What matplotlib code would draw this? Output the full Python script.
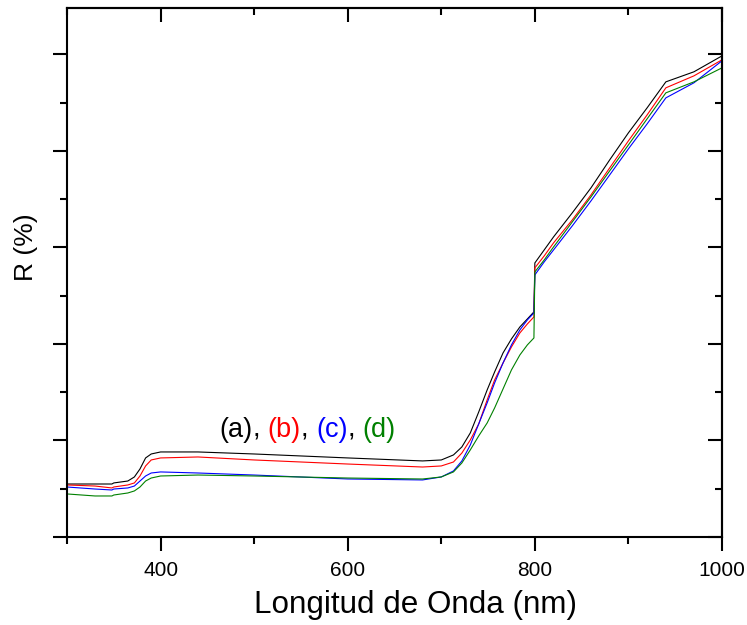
import matplotlib
matplotlib.use("Agg")
import matplotlib.pyplot as plt
from matplotlib.ticker import MultipleLocator, NullFormatter

plt.rcParams['font.family'] = ['Liberation Sans', 'DejaVu Sans']

# Wavelength grid (nm)
wavelength = [300, 330, 348, 350, 365, 372, 378, 384, 390, 400, 440, 500, 600, 680,
              700, 713, 722, 731, 740, 749, 757, 766, 775, 784, 792, 799, 800, 810,
              820, 840, 860, 880, 900, 920, 940, 970, 1000]

# Reflectance (arbitrary scale, %)
R_a = [5.49, 5.49, 5.49, 5.60, 5.80, 6.22, 7.05, 8.19, 8.60, 8.81, 8.81, 8.60, 8.19, 7.88,
       7.98, 8.50, 9.33, 10.78, 12.95, 15.23, 17.10, 19.07, 20.52, 21.76, 22.59, 23.32,
       28.39, 29.74, 31.09, 33.58, 36.17, 39.07, 41.87, 44.46, 47.15, 48.19, 49.84]
R_b = [5.39, 5.28, 5.08, 5.18, 5.39, 5.60, 6.32, 7.36, 7.98, 8.19, 8.29, 7.98, 7.56, 7.25,
       7.36, 7.77, 8.70, 10.05, 11.71, 14.20, 16.27, 18.03, 19.69, 21.14, 22.07, 22.80,
       27.88, 29.12, 30.47, 32.85, 35.44, 38.24, 41.04, 43.73, 46.53, 47.77, 49.43]
R_c = [5.18, 4.97, 4.87, 4.97, 5.08, 5.28, 5.80, 6.32, 6.63, 6.74, 6.63, 6.42, 6.01, 5.91,
       6.22, 6.84, 7.88, 9.53, 11.71, 13.89, 15.96, 18.03, 19.90, 21.45, 22.49, 23.21,
       27.15, 28.50, 29.74, 32.23, 34.82, 37.51, 40.21, 42.80, 45.49, 47.05, 49.33]
R_d = [4.46, 4.25, 4.25, 4.35, 4.56, 4.77, 5.18, 5.80, 6.11, 6.32, 6.42, 6.32, 6.11, 6.01,
       6.22, 6.74, 7.67, 9.02, 10.47, 11.81, 13.37, 15.34, 17.31, 18.86, 19.90, 20.62,
       27.46, 28.70, 30.05, 32.64, 35.23, 37.93, 40.62, 43.32, 46.01, 47.15, 48.60]

series = [("(a)", R_a, "black"), ("(b)", R_b, "#ff0000"),
          ("(c)", R_c, "#0000ff"), ("(d)", R_d, "#008000")]

fig = plt.figure(figsize=(7.47, 6.25), dpi=100)
ax = fig.add_axes([67/747, 1-537/625, 655/747, 529/625])

for name, vals, col in series:
    ax.plot(wavelength, vals, color=col, lw=0.8)

ax.set_xlim(300, 1000)
ax.set_ylim(0, 54.8)

for s in ax.spines.values():
    s.set_linewidth(1.5)

ax.xaxis.set_major_locator(MultipleLocator(200))
ax.xaxis.set_minor_locator(MultipleLocator(100))
ax.yaxis.set_major_locator(MultipleLocator(10))
ax.yaxis.set_minor_locator(MultipleLocator(5))
ax.yaxis.set_major_formatter(NullFormatter())
ax.tick_params(which='major', direction='out', length=10, width=1.5, labelsize=15, pad=7)
ax.tick_params(which='minor', direction='out', length=5, width=1.5)

secx = ax.secondary_xaxis('top')
secx.xaxis.set_major_locator(MultipleLocator(200))
secx.xaxis.set_minor_locator(MultipleLocator(100))
secx.xaxis.set_major_formatter(NullFormatter())
secx.tick_params(which='major', direction='in', length=10, width=1.5)
secx.tick_params(which='minor', direction='in', length=5, width=1.5)
secx.spines['top'].set_linewidth(1.5)

secy = ax.secondary_yaxis('right')
secy.yaxis.set_major_locator(MultipleLocator(10))
secy.yaxis.set_minor_locator(MultipleLocator(5))
secy.yaxis.set_major_formatter(NullFormatter())
secy.tick_params(which='major', direction='in', length=10, width=1.5)
secy.tick_params(which='minor', direction='in', length=5, width=1.5)
secy.spines['right'].set_linewidth(1.5)

ax.set_xlabel("Longitud de Onda (nm)", fontsize=22.6, va='center')
ax.xaxis.set_label_coords((415-67)/655, (537-605)/529)
ax.set_ylabel("R (%)", fontsize=19, va='center', ha='center')
ax.yaxis.set_label_coords((26-67)/655, (537-247)/529)

# Colored annotation "(a), (b), (c), (d)"
fs = 19.5
t = ax.text(463, 11.1, "(a)", color="black", fontsize=fs, va='center', ha='left')
pieces = [(", ", "black"), ("(b)", "#ff0000"), (", ", "black"), ("(c)", "#0000ff"),
          (", ", "black"), ("(d)", "#008000")]
for txt, col in pieces:
    t = ax.annotate(txt, xy=(1, 0), xycoords=t, va='bottom', ha='left',
                    color=col, fontsize=fs)

fig.savefig("out.png", dpi=100)
